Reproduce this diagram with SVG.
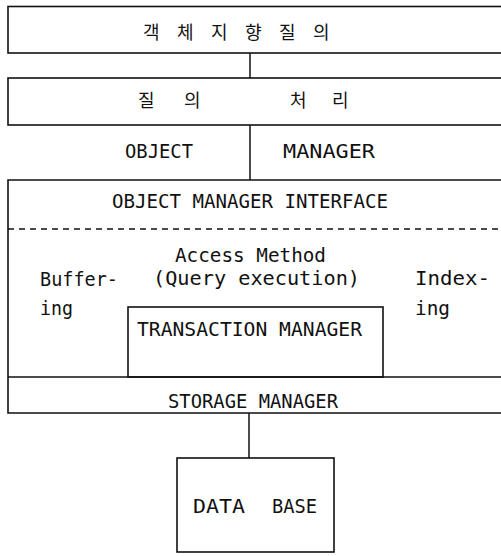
<svg xmlns="http://www.w3.org/2000/svg" width="501" height="556" viewBox="0 0 501 556">
<style>
.box{fill:none;stroke:#111;stroke-width:1.6}
.ln{stroke:#111;stroke-width:1.5;fill:none}
.dash{stroke:#111;stroke-width:1.5;stroke-dasharray:6 5;fill:none}
.t{font-family:"DejaVu Sans Mono","Liberation Mono",monospace;font-size:19px;fill:#111}
.k{font-family:"Noto Sans CJK KR","Noto Sans",sans-serif;font-size:18px;fill:#111}
</style>
<rect width="501" height="556" fill="#fff"/>
<g id="oo-query">
<rect class="box" x="8" y="6.5" width="510" height="46.5"/>
<text class="k" y="38.5"><tspan x="143">객</tspan><tspan x="177">체</tspan><tspan x="211">지</tspan><tspan x="245">향</tspan><tspan x="279">질</tspan><tspan x="313">의</tspan></text>
</g>
<g id="query-processing">
<rect class="box" x="8" y="78" width="510" height="47"/>
<text class="k" y="107"><tspan x="138">질</tspan><tspan x="184">의</tspan><tspan x="290">처</tspan><tspan x="332">리</tspan></text>
</g>
<g id="object-manager-label">
<text class="t" x="125" y="158" textLength="68" lengthAdjust="spacingAndGlyphs">OBJECT</text>
<text class="t" x="283" y="158" textLength="92" lengthAdjust="spacingAndGlyphs">MANAGER</text>
</g>
<g id="object-manager">
<path class="box" d="M510,180 H8 V413 H510"/>
<text class="t" x="112" y="208" textLength="276" lengthAdjust="spacingAndGlyphs">OBJECT MANAGER INTERFACE</text>
<path class="dash" d="M8,229 H501"/>
<text class="t" x="175" y="262" textLength="151" lengthAdjust="spacingAndGlyphs">Access Method</text>
<text class="t" x="153" y="285" textLength="207" lengthAdjust="spacingAndGlyphs">(Query execution)</text>
<text class="t" x="40" y="286" textLength="78" lengthAdjust="spacingAndGlyphs">Buffer-</text>
<text class="t" x="40" y="315" textLength="33" lengthAdjust="spacingAndGlyphs">ing</text>
<text class="t" x="415" y="285" textLength="75" lengthAdjust="spacingAndGlyphs">Index-</text>
<text class="t" x="415" y="315" textLength="35" lengthAdjust="spacingAndGlyphs">ing</text>
<path class="ln" d="M8,377 H501"/>
</g>
<g id="transaction-manager">
<rect class="box" x="128" y="307" width="255" height="70"/>
<text class="t" x="137" y="336" textLength="225" lengthAdjust="spacingAndGlyphs">TRANSACTION MANAGER</text>
</g>
<g id="storage-manager">
<text class="t" x="168" y="408" textLength="170" lengthAdjust="spacingAndGlyphs">STORAGE MANAGER</text>
</g>
<g id="database">
<rect class="box" x="177" y="458" width="157" height="94"/>
<text class="t" x="193" y="513" textLength="52" lengthAdjust="spacingAndGlyphs">DATA</text>
<text class="t" x="272" y="513" textLength="45" lengthAdjust="spacingAndGlyphs">BASE</text>
</g>
<g id="connectors">
<line class="ln" x1="250" y1="53" x2="250" y2="78"/>
<line class="ln" x1="250" y1="125" x2="250" y2="180"/>
<line class="ln" x1="249" y1="413" x2="249" y2="458"/>
</g>
</svg>
